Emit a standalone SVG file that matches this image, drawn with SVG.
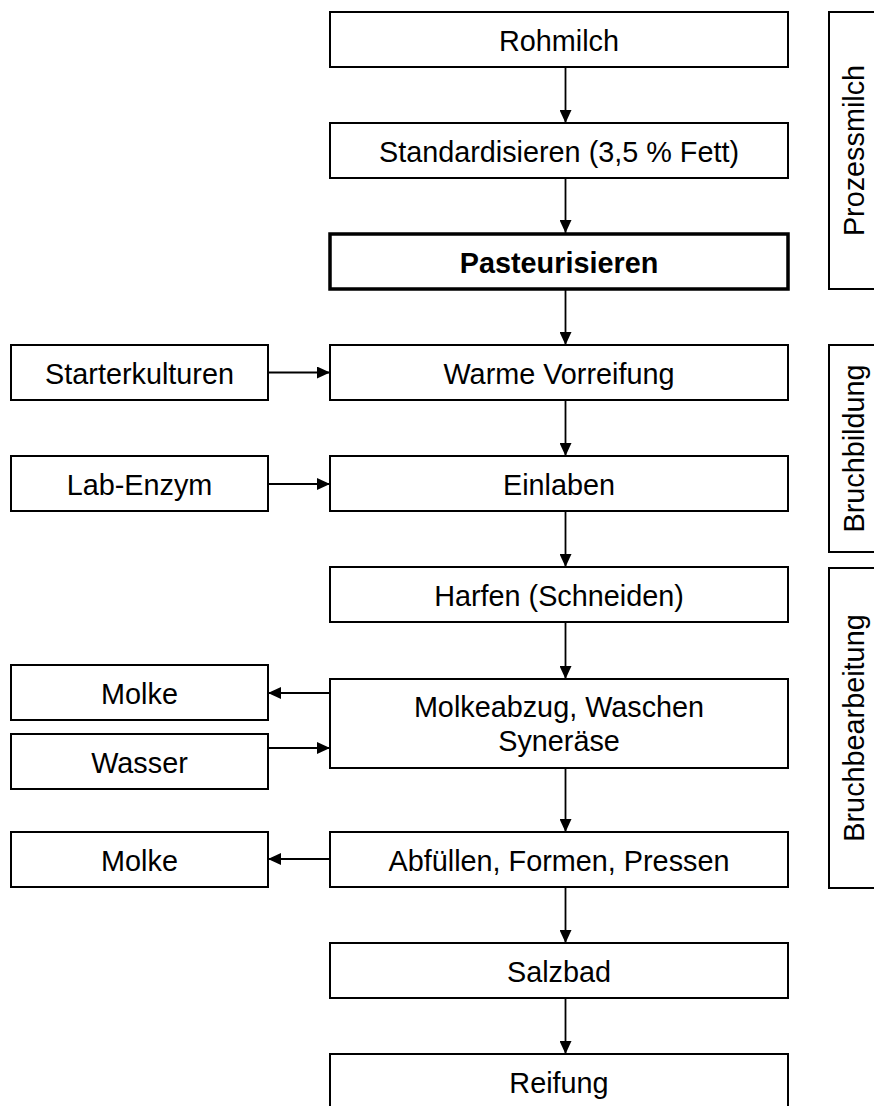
<svg xmlns="http://www.w3.org/2000/svg" width="874" height="1106" viewBox="0 0 874 1106">
<style>
.box{fill:#fff;stroke:#000;stroke-width:2}
.thick{stroke-width:3.5}
.t{font-family:"Liberation Sans",Arial,sans-serif;font-size:28.8px;fill:#000;text-anchor:middle}
.b{font-weight:bold}
.c{stroke:#000;stroke-width:1.8;fill:none;marker-end:url(#ah)}
</style>
<defs>
<marker id="ah" markerUnits="userSpaceOnUse" markerWidth="13" markerHeight="12" refX="13" refY="6" orient="auto">
<path d="M0,0 L13,6 L0,12 z" fill="#000"/>
</marker>
</defs>
<rect width="874" height="1106" fill="#fff"/>
<g id="connectors">
<line class="c" x1="565.5" y1="67" x2="565.5" y2="123"/>
<line class="c" x1="565.5" y1="178" x2="565.5" y2="233"/>
<line class="c" x1="565.5" y1="290" x2="565.5" y2="345"/>
<line class="c" x1="565.5" y1="400" x2="565.5" y2="456"/>
<line class="c" x1="565.5" y1="511" x2="565.5" y2="567"/>
<line class="c" x1="565.5" y1="622" x2="565.5" y2="679"/>
<line class="c" x1="565.5" y1="768" x2="565.5" y2="832"/>
<line class="c" x1="565.5" y1="887" x2="565.5" y2="943"/>
<line class="c" x1="565.5" y1="998" x2="565.5" y2="1054"/>
<line class="c" x1="268" y1="372.5" x2="330" y2="372.5"/>
<line class="c" x1="268" y1="484" x2="330" y2="484"/>
<line class="c" x1="330" y1="693" x2="268" y2="693"/>
<line class="c" x1="268" y1="748" x2="330" y2="748"/>
<line class="c" x1="330" y1="859" x2="268" y2="859"/>
</g>
<g id="rohmilch"><rect class="box" x="330" y="12" width="458" height="55"/><text class="t" x="559" y="50.5">Rohmilch</text></g>
<g id="standardisieren"><rect class="box" x="330" y="123" width="458" height="55"/><text class="t" x="559" y="161.5">Standardisieren (3,5 % Fett)</text></g>
<g id="pasteurisieren"><rect class="box thick" x="330" y="234" width="458" height="55"/><text class="t b" x="559" y="272.5">Pasteurisieren</text></g>
<g id="vorreifung"><rect class="box" x="330" y="345" width="458" height="55"/><text class="t" x="559" y="383.5">Warme Vorreifung</text></g>
<g id="einlaben"><rect class="box" x="330" y="456" width="458" height="55"/><text class="t" x="559" y="494.5">Einlaben</text></g>
<g id="harfen"><rect class="box" x="330" y="567" width="458" height="55"/><text class="t" x="559" y="605.5">Harfen (Schneiden)</text></g>
<g id="molkeabzug"><rect class="box" x="330" y="679" width="458" height="89"/><text class="t" x="559" y="716.5">Molkeabzug, Waschen</text><text class="t" x="559" y="750.5">Syneräse</text></g>
<g id="abfuellen"><rect class="box" x="330" y="832" width="458" height="55"/><text class="t" x="559" y="870.5">Abfüllen, Formen, Pressen</text></g>
<g id="salzbad"><rect class="box" x="330" y="943" width="458" height="55"/><text class="t" x="559" y="981.5">Salzbad</text></g>
<g id="reifung"><rect class="box" x="330" y="1054" width="458" height="62"/><text class="t" x="559" y="1092.5">Reifung</text></g>
<g id="starterkulturen"><rect class="box" x="11" y="345" width="257" height="55"/><text class="t" x="139.5" y="383.5">Starterkulturen</text></g>
<g id="labenzym"><rect class="box" x="11" y="456" width="257" height="55"/><text class="t" x="139.5" y="494.5">Lab-Enzym</text></g>
<g id="molke1"><rect class="box" x="11" y="665" width="257" height="55"/><text class="t" x="139.5" y="703.5">Molke</text></g>
<g id="wasser"><rect class="box" x="11" y="734" width="257" height="55"/><text class="t" x="139.5" y="772.5">Wasser</text></g>
<g id="molke2"><rect class="box" x="11" y="832" width="257" height="55"/><text class="t" x="139.5" y="870.5">Molke</text></g>
<g id="prozessmilch"><rect class="box" x="829" y="12" width="60" height="277"/><text class="t" transform="translate(864,150.5) rotate(-90)">Prozessmilch</text></g>
<g id="bruchbildung"><rect class="box" x="829" y="345" width="60" height="207"/><text class="t" transform="translate(864,448.5) rotate(-90)">Bruchbildung</text></g>
<g id="bruchbearbeitung"><rect class="box" x="829" y="568" width="60" height="320"/><text class="t" transform="translate(864,728) rotate(-90)">Bruchbearbeitung</text></g>
</svg>
